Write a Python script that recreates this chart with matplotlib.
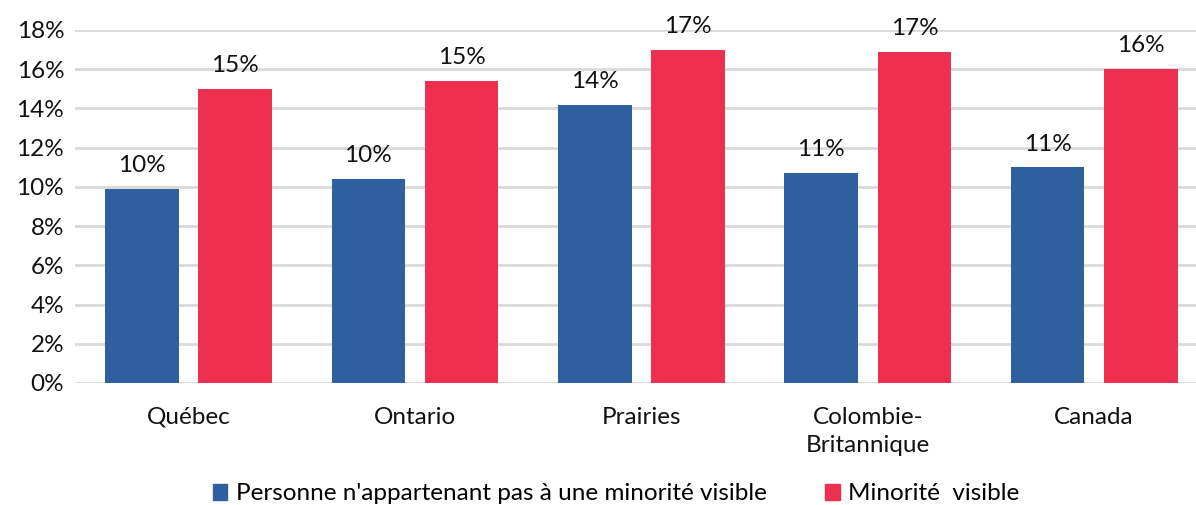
import matplotlib
matplotlib.use('Agg')
import numpy as np
import matplotlib.pyplot as plt
from matplotlib.patches import Patch

plt.rcParams.update({'font.family': ['Lato', 'DejaVu Sans'], 'font.size': 17.5})

regions = ['Québec', 'Ontario', 'Prairies', 'Colombie-\nBritannique', 'Canada']
non_minority = [9.9, 10.4, 14.2, 10.7, 11.0]
minority = [15.0, 15.4, 17.0, 16.9, 16.0]
series_names = ["Personne n'appartenant pas à une minorité visible", 'Minorité  visible']

BLUE = '#2E60A0'
RED = '#EE3050'
GRID = '#D9D9D9'

fig = plt.figure(figsize=(11.96, 5.05), dpi=100)
ax = fig.add_axes([0.063, 0.2416, 0.9465, 0.699])

x = np.arange(len(regions))
w = 0.325
off = 0.206
b1 = ax.bar(x - off, non_minority, w, color=BLUE, zorder=3)
b2 = ax.bar(x + off, minority, w, color=RED, zorder=3)

for bars, vals in ((b1, non_minority), (b2, minority)):
    for r, v in zip(bars, vals):
        ax.text(r.get_x() + r.get_width() / 2, v + 0.65, f'{round(v):d}%',
                ha='center', va='bottom', color='#111111')

ax.set_xlim(-0.5, len(regions) - 0.5)
ax.set_ylim(0, 18)
ax.set_yticks(range(0, 19, 2))
ax.set_yticklabels([f'{t}%' for t in range(0, 19, 2)])
ax.set_xticks(x)
ax.set_xticklabels(regions, linespacing=1.45)
ax.tick_params(axis='x', length=0, pad=17, labelcolor='#111111')
ax.tick_params(axis='y', length=0, pad=8, labelcolor='#111111')
ax.grid(axis='y', color=GRID, lw=2, zorder=0)
for s in ax.spines.values():
    s.set_visible(False)

handles = [Patch(color=BLUE), Patch(color=RED)]
fig.legend(handles, series_names, loc='center', bbox_to_anchor=(0.515, 0.022),
           ncol=2, frameon=False, handlelength=0.6, handleheight=0.6,
           handletextpad=0.35, columnspacing=2.4)

fig.savefig('out.png', dpi=100)
